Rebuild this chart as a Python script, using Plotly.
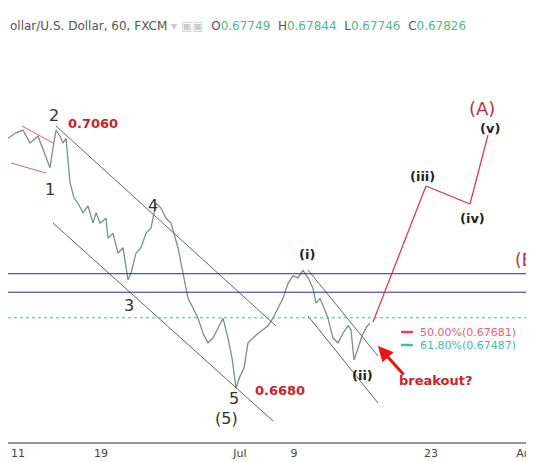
import plotly.graph_objects as go

# price path (bar index, close)
bar_idx = [0, 8, 15, 22, 30, 38, 42, 45, 48, 52, 55, 58, 62, 66, 70, 75, 80, 85, 88, 92, 98,
           100, 105, 110, 115, 120, 123, 128, 133, 138, 143, 148, 153, 158, 163, 170, 175, 180,
           185, 190, 195, 200, 205, 210, 215, 220, 224, 228, 232, 236, 240, 245, 250, 255, 260,
           265, 270, 275, 280, 285, 290, 295, 300, 305, 308, 312, 316, 320, 325, 330, 335, 340,
           343, 346, 350, 354, 358, 362]
close = [0.7045, 0.7053, 0.7057, 0.7038, 0.7048, 0.7016, 0.7002, 0.7031, 0.7057, 0.7048, 0.7038,
         0.7045, 0.6980, 0.6958, 0.6950, 0.6936, 0.6946, 0.6921, 0.6936, 0.6921, 0.6928, 0.6899,
         0.6906, 0.6877, 0.6885, 0.6838, 0.6848, 0.6877, 0.6885, 0.6906, 0.6914, 0.6950, 0.6943,
         0.6928, 0.6921, 0.6885, 0.6848, 0.6811, 0.6797, 0.6782, 0.6760, 0.6746, 0.6753, 0.6768,
         0.6782, 0.6753, 0.6724, 0.6680, 0.6697, 0.6709, 0.6746, 0.6753, 0.6760, 0.6765, 0.6771,
         0.6782, 0.6797, 0.6811, 0.6833, 0.6844, 0.6841, 0.6852, 0.6841, 0.6826, 0.6804, 0.6811,
         0.6797, 0.6782, 0.6753, 0.6746, 0.6760, 0.6771, 0.6765, 0.6721, 0.6738, 0.6756, 0.6768,
         0.6775]
tick_pos = [10, 93, 232, 286, 423, 519]
tick_text = ['11', '19', 'Jul', '9', '23', 'Aug']
res_lines = [0.6847, 0.6820]
last_close = 0.67826

def py(ypix):
    # pixel row -> price (chart scale)
    return 0.7060 - (ypix - 120) / 6842

fig = go.Figure()
fig.add_trace(go.Scatter(x=bar_idx, y=close, mode='lines',
                         line=dict(color='#7f8f84', width=1.3), hoverinfo='skip'))

def seg(x0, y0, x1, y1, color='#555', width=1, dash='solid'):
    fig.add_shape(type='line', x0=x0, x1=x1, y0=py(y0), y1=py(y1),
                  line=dict(color=color, width=width, dash=dash))

seg(48, 118, 268, 318, '#666')
seg(45, 215, 265, 413, '#666')
seg(14, 118, 45, 135, '#e06070')
seg(3, 155, 38, 165, '#e06070')
seg(300, 262, 370, 348, '#666')
seg(300, 308, 370, 395, '#666')
for lvl in res_lines:
    fig.add_hline(y=lvl, line=dict(color='#2a2a9a', width=1))
fig.add_hline(y=last_close, line=dict(color='#4fb8a0', width=1, dash='dot'))
seg(365, 314, 418, 178, '#e03040', 1.2)
seg(418, 178, 462, 196, '#e03040', 1.2)
seg(462, 196, 480, 127, '#e03040', 1.2)
seg(393, 324, 405, 324, '#f04050', 2.5)
seg(393, 337, 405, 337, '#40c0a0', 2.5)

fig.add_annotation(x=370, y=py(338), ax=397, ay=py(368), xref='x', yref='y', axref='x', ayref='y',
                   showarrow=True, arrowhead=2, arrowsize=1, arrowwidth=3, arrowcolor='#ee1111', text='')

labels = [
    ('2', 46, 107, 16, '#333', False), ('1', 42, 181, 16, '#333', False),
    ('4', 145, 197, 16, '#333', False), ('3', 121, 297, 16, '#333', False),
    ('5', 226, 390, 16, '#333', False), ('(5)', 218, 410, 16, '#333', False),
    ('0.7060', 85, 115, 13, '#d0202a', True), ('0.6680', 272, 382, 13, '#d0202a', True),
    ('(i)', 299, 246, 13, '#222', True), ('(ii)', 354, 367, 13, '#222', True),
    ('(iii)', 414, 168, 13, '#222', True), ('(iv)', 464, 210, 13, '#222', True),
    ('(v)', 482, 120, 13, '#222', True), ('breakout?', 428, 372, 13, '#d0202a', True),
    ('(A)', 474, 100, 18, '#c03040', False),
]
for t, x, y, s, c, b in labels:
    fig.add_annotation(x=x, y=py(y), text=f'<b>{t}</b>' if b else t, showarrow=False,
                       font=dict(size=s, color=c, family='DejaVu Sans'))
fig.add_annotation(x=534, y=py(252), text='(B)', showarrow=False, xanchor='right',
                   font=dict(size=17, color='#c03040', family='DejaVu Sans'))
fig.add_annotation(x=410, y=py(324), text='50.00%(0.67681)', showarrow=False, xanchor='left',
                   font=dict(size=11, color='#f06070', family='DejaVu Sans'))
fig.add_annotation(x=410, y=py(337), text='61.80%(0.67487)', showarrow=False, xanchor='left',
                   font=dict(size=11, color='#40c0a0', family='DejaVu Sans'))
fig.add_annotation(x=0, y=py(18), xanchor='left', showarrow=False,
                   text='ollar/U.S. Dollar, 60, FXCM <span style="color:#ccc">▾ ▣▣</span>  '
                        'O<span style="color:#53b987">0.67749</span>  H<span style="color:#53b987">0.67844</span>  '
                        'L<span style="color:#53b987">0.67746</span>  C<span style="color:#53b987">0.67826</span>',
                   font=dict(size=12, color='#555', family='DejaVu Sans'))

fig.update_layout(width=534, height=462, margin=dict(l=0, r=0, t=0, b=28),
                  plot_bgcolor='white', paper_bgcolor='white', showlegend=False,
                  xaxis=dict(range=[0, 534], tickvals=tick_pos, ticktext=tick_text, showgrid=False,
                             zeroline=False, showline=True, linecolor='#999', linewidth=2,
                             ticks='', tickfont=dict(size=11, color='#444', family='DejaVu Sans')),
                  yaxis=dict(range=[py(434), py(0)], visible=False))
fig.write_html('out.html')
